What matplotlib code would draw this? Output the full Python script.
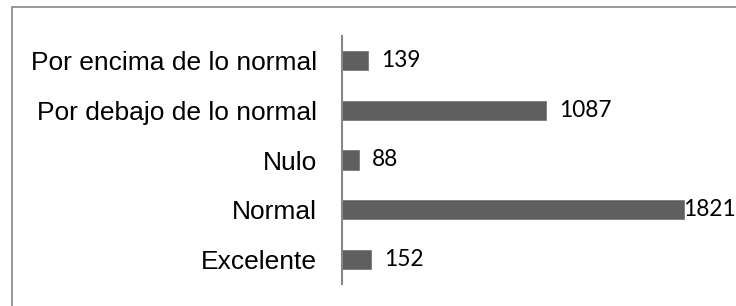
import matplotlib
matplotlib.use("Agg")
import matplotlib.pyplot as plt
import matplotlib.patches as mpatches

# categories listed bottom-to-top
categories = ["Excelente", "Normal", "Nulo", "Por debajo de lo normal", "Por encima de lo normal"]
values = [152, 1821, 88, 1087, 139]

BAR_COLOR = "#5f5f5f"
AXIS_COLOR = "#878787"

W, H = 736, 306
fig = plt.figure(figsize=(W / 100, H / 100), dpi=100)
fig.patch.set_facecolor("white")

# outer chart frame (cut off at right and bottom in the reference)
fig.patches.append(mpatches.Rectangle(
    (11.5 / W, -0.05), 1.2, 1.05 - 7.5 / H,
    transform=fig.transFigure, fill=False, edgecolor=AXIS_COLOR, linewidth=1.2,
))

ax = fig.add_axes([342 / W, 1 - 284 / H, (W - 342) / W, (284 - 36) / H])
ax.set_facecolor("none")

ypos = list(range(len(categories)))
ax.barh(ypos, values, height=0.39, color=BAR_COLOR, edgecolor="#7a7a7a", linewidth=0.6, zorder=2)

xmax = 2098
ax.set_xlim(0, xmax)
ax.set_ylim(-0.5, len(categories) - 0.5)

labels = []
for y, v in zip(ypos, values):
    t = ax.text(v + 70, y, str(v), ha="left", va="center",
                fontsize=16.3, family=["Lato", "DejaVu Sans"], color="black", clip_on=False)
    labels.append(t)

ax.set_yticks(ypos)
ax.set_yticklabels(categories, fontsize=19, family=["Liberation Sans", "DejaVu Sans"], color="black")
ax.tick_params(axis="y", length=0, pad=18)
ax.set_xticks([])

for side in ["top", "right", "bottom"]:
    ax.spines[side].set_visible(False)
ax.spines["left"].set_color(AXIS_COLOR)
ax.spines["left"].set_linewidth(1.5)

# pull labels that would run past the right edge back inside (Excel-style)
fig.canvas.draw()
renderer = fig.canvas.get_renderer()
for t in labels:
    bb = t.get_window_extent(renderer)
    over = bb.x1 - W
    if over > 0:
        x_disp, y_disp = ax.transData.transform((t.get_position()[0], 0))
        t.set_x(ax.transData.inverted().transform((x_disp - over, y_disp))[0])

fig.savefig("out.png", dpi=100, facecolor="white")
